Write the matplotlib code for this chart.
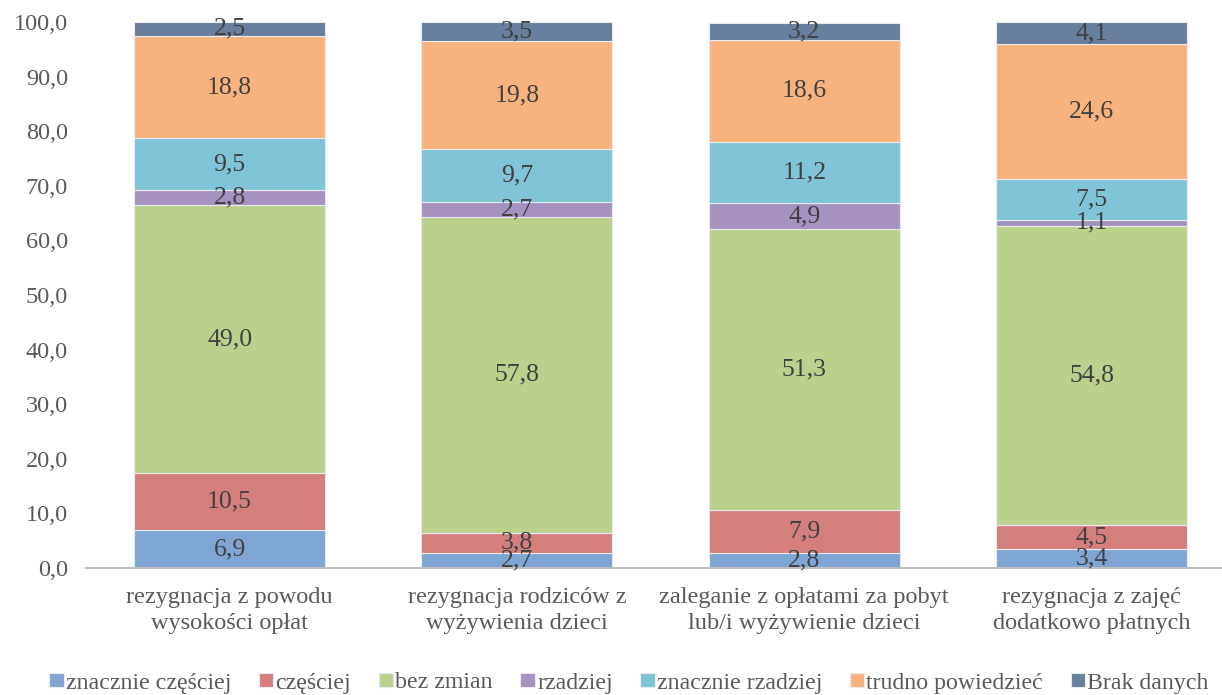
import matplotlib.pyplot as plt
import numpy as np

plt.rcParams['font.family'] = ['Liberation Serif', 'DejaVu Serif']

categories = ["rezygnacja z powodu\nwysokości opłat",
              "rezygnacja rodziców z\nwyżywienia dzieci",
              "zaleganie z opłatami za pobyt\nlub/i wyżywienie dzieci",
              "rezygnacja z zajęć\ndodatkowo płatnych"]
series = ["znacznie częściej", "częściej", "bez zmian", "rzadziej",
          "znacznie rzadziej", "trudno powiedzieć", "Brak danych"]
znacznie_czesciej = [6.9, 2.7, 2.8, 3.4]
czesciej = [10.5, 3.8, 7.9, 4.5]
bez_zmian = [49.0, 57.8, 51.3, 54.8]
rzadziej = [2.8, 2.7, 4.9, 1.1]
znacznie_rzadziej = [9.5, 9.7, 11.2, 7.5]
trudno = [18.8, 19.8, 18.6, 24.6]
brak = [2.5, 3.5, 3.2, 4.1]
colors = ["#7FA6D3", "#D47F7E", "#BBD08B", "#A592BF", "#7FC4D7", "#F8B27E", "#687F9D"]

values = [znacznie_czesciej, czesciej, bez_zmian, rzadziej, znacznie_rzadziej, trudno, brak]

fig = plt.figure(figsize=(12.22, 6.95), dpi=100)
ax = fig.add_axes([86/1222, 127/695, (1222-86)/1222, 546/695])

x = np.arange(len(categories))
bottom = np.zeros(len(categories))
for name, vals, c in zip(series, values, colors):
    vals = np.array(vals)
    ax.bar(x, vals, 0.665, bottom=bottom, color=c, edgecolor='#e8ecf0', linewidth=0.8, label=name)
    for xi, b, v in zip(x, bottom, vals):
        ax.text(xi, b + v / 2, f"{v:.1f}".replace('.', ','), ha='center', va='center',
                fontsize=18.5, color='#404040')
    bottom += vals

ax.set_xlim(-0.5, 3.454)
ax.set_ylim(0, 100)
ax.set_yticks(np.arange(0, 101, 10))
ax.set_yticklabels([f"{v:.1f}".replace('.', ',') for v in np.arange(0, 101, 10)])
ax.set_xticks(x)
ax.set_xticklabels(categories, linespacing=1.3)
ax.tick_params(axis='both', length=0, labelsize=17.5, colors='#595959')
ax.tick_params(axis='y', pad=13)
ax.tick_params(axis='x', pad=14)
for s in ['top', 'right', 'left']:
    ax.spines[s].set_visible(False)
ax.spines['bottom'].set_color('#bfbfbf')
ax.spines['bottom'].set_linewidth(1.5)

fig.legend(loc='center', bbox_to_anchor=(629/1222, 1 - 683/695), ncol=7, frameon=False,
           prop={'family': 'Liberation Serif', 'size': 17.2},
           handlelength=0.6, handleheight=0.55, handletextpad=0.1,
           columnspacing=1.15, labelcolor='#595959')

fig.savefig('out.png', dpi=100)
